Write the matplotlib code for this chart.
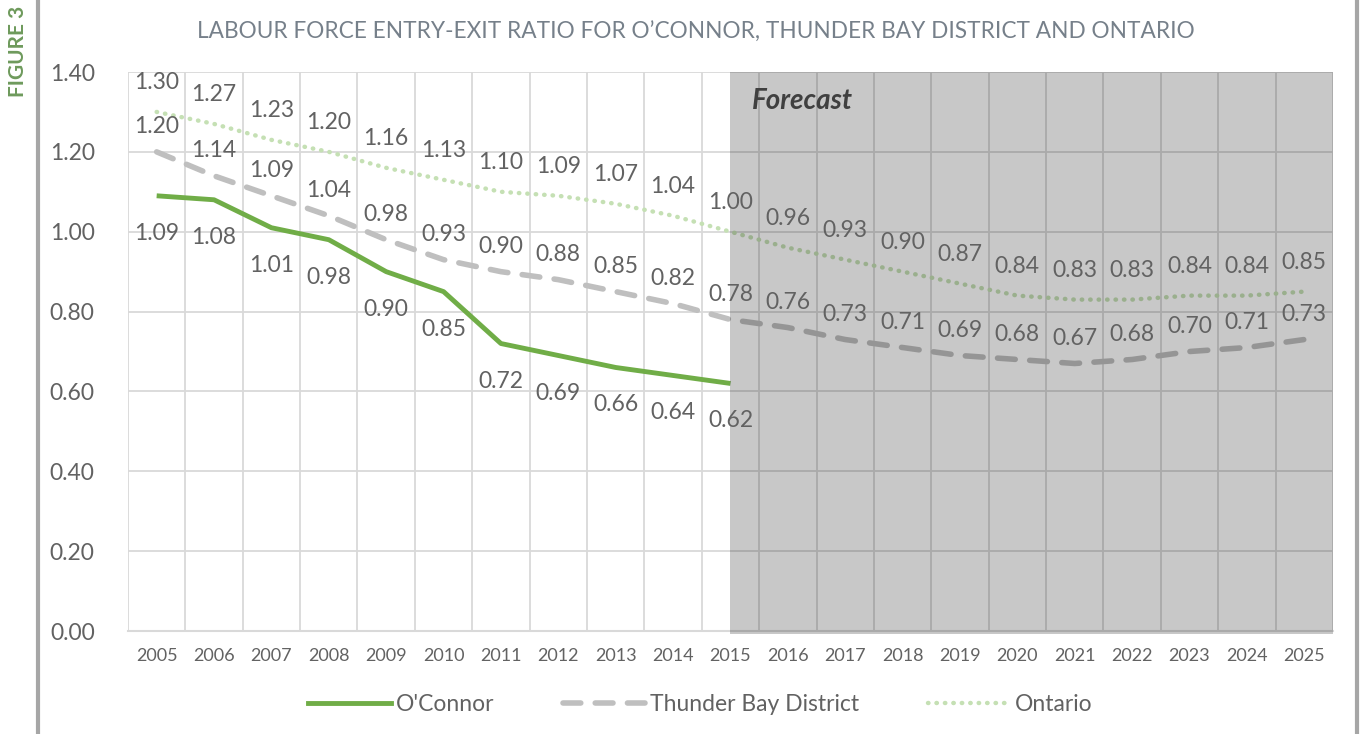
import numpy as np
import matplotlib
matplotlib.use('Agg')
import matplotlib.pyplot as plt
from matplotlib.patches import Rectangle
from matplotlib.lines import Line2D

plt.rcParams['font.family'] = ['Lato', 'DejaVu Sans']

# data
years = [str(y) for y in range(2005, 2026)]
oconnor = [1.09, 1.08, 1.01, 0.98, 0.90, 0.85, 0.72, 0.69, 0.66, 0.64, 0.62]
thunder_bay = [1.20, 1.14, 1.09, 1.04, 0.98, 0.93, 0.90, 0.88, 0.85, 0.82, 0.78,
               0.76, 0.73, 0.71, 0.69, 0.68, 0.67, 0.68, 0.70, 0.71, 0.73]
ontario = [1.30, 1.27, 1.23, 1.20, 1.16, 1.13, 1.10, 1.09, 1.07, 1.04, 1.00,
           0.96, 0.93, 0.90, 0.87, 0.84, 0.83, 0.83, 0.84, 0.84, 0.85]
forecast_start = '2015'

txt_col = '#626262'
grid_col = '#d9d9d9'

fig = plt.figure(figsize=(13.6, 7.34), dpi=100)
ax = fig.add_axes([0.0941, 0.1403, 0.8860, 0.7616])

x = np.arange(len(years))
ax.set_xlim(-0.5, len(years) - 0.5)
ax.set_ylim(0, 1.4)

# grid
for b in np.arange(-0.5, len(years) + 0.5, 1):
    ax.axvline(b, color=grid_col, lw=1.3, zorder=1)
for yv in np.arange(0.2, 1.41, 0.2):
    ax.axhline(yv, color=grid_col, lw=1.3, zorder=1)
for s in ['left', 'right', 'top']:
    ax.spines[s].set_visible(False)
ax.spines['bottom'].set_color(grid_col)
ax.spines['bottom'].set_linewidth(1.5)

ax.plot(x[:len(oconnor)], oconnor, color='#70ad47', lw=3.5, zorder=3,
        solid_capstyle='butt')
ax.plot(x, thunder_bay, color='#bfbfbf', lw=4, zorder=3, dashes=(3.2, 2.6),
        dash_capstyle='round')
ax.plot(x, ontario, color='#c5e0b4', lw=3.2, zorder=3, dashes=(0.1, 1.8),
        dash_capstyle='round')

# forecast shading
fs = years.index(forecast_start)
ax.add_patch(Rectangle((fs, -0.008), len(years) - 0.5 - fs, 1.408,
                       facecolor='black', alpha=0.215, lw=0, zorder=4,
                       clip_on=False))
ax.text(fs + 0.38, 1.36, 'Forecast', fontsize=20, fontweight='bold',
        fontstyle='italic', color='#404040', va='top', ha='left', zorder=6)

# data labels
for i, v in enumerate(ontario):
    ax.annotate(f'{v:.2f}', (x[i], v), xytext=(0, 21), textcoords='offset points',
                ha='center', va='center', fontsize=16.5, color=txt_col, zorder=6)
for i, v in enumerate(thunder_bay):
    ax.annotate(f'{v:.2f}', (x[i], v), xytext=(0, 18), textcoords='offset points',
                ha='center', va='center', fontsize=16.5, color=txt_col, zorder=6)
for i, v in enumerate(oconnor):
    ax.annotate(f'{v:.2f}', (x[i], v), xytext=(0, -27), textcoords='offset points',
                ha='center', va='center', fontsize=16.5, color=txt_col, zorder=6)

ax.set_xticks(x)
ax.set_xticklabels(years, fontsize=13, color=txt_col)
ax.set_yticks(np.arange(0, 1.41, 0.2))
ax.set_yticklabels([f'{v:.2f}' for v in np.arange(0, 1.41, 0.2)],
                   fontsize=16.5, color=txt_col)
ax.tick_params(length=0, pad=12)
ax.tick_params(axis='y', pad=24)

fig.text(0.512, 0.956, "LABOUR FORCE ENTRY-EXIT RATIO FOR O\u2019CONNOR, THUNDER BAY DISTRICT AND ONTARIO",
         ha='center', va='center', fontsize=16.3, color='#76808a')
fig.text(0.013, 0.93, 'FIGURE 3', rotation=90, ha='center', va='center',
         fontsize=15, fontweight='bold', color='#6e9a5c')

# page borders
fig.add_artist(Line2D([0.028, 0.028], [0, 1], color='#a6a6a6', lw=3))
fig.add_artist(Line2D([0.998, 0.998], [0, 1], color='#a6a6a6', lw=3))

handles = [Line2D([], [], color='#70ad47', lw=3.5),
           Line2D([], [], color='#bfbfbf', lw=4, dashes=(3.2, 2.6), dash_capstyle='round'),
           Line2D([], [], color='#c5e0b4', lw=3.2, dashes=(0.1, 1.8), dash_capstyle='round')]
fig.legend(handles, ["O'Connor", 'Thunder Bay District', 'Ontario'],
           loc='center', bbox_to_anchor=(0.515, 0.04), ncol=3, frameon=False,
           fontsize=16.5, labelcolor=txt_col, handlelength=3.6, columnspacing=3,
           handletextpad=0.2)

fig.savefig('out.png', dpi=100)
